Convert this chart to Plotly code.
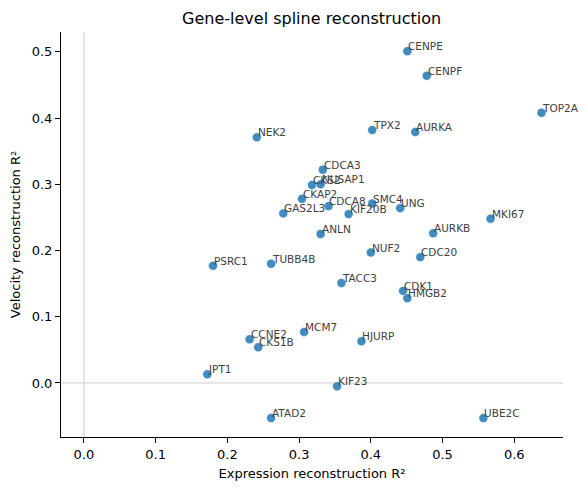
import plotly.graph_objects as go

genes = ["CENPE", "CENPF", "TOP2A", "NEK2", "TPX2", "AURKA", "CDCA3", "CKS2", "NUSAP1",
         "CKAP2", "CDCA8", "GAS2L3", "KIF20B", "SMC4", "UNG", "ANLN", "AURKB", "MKI67",
         "NUF2", "CDC20", "PSRC1", "TUBB4B", "TACC3", "CDK1", "HMGB2", "MCM7", "CCNE2",
         "CKS1B", "HJURP", "JPT1", "KIF23", "ATAD2", "UBE2C"]
expr_r2 = [0.451, 0.478, 0.638, 0.241, 0.402, 0.462, 0.333, 0.318, 0.330,
           0.304, 0.341, 0.278, 0.369, 0.402, 0.441, 0.330, 0.487, 0.567,
           0.400, 0.469, 0.180, 0.261, 0.359, 0.445, 0.451, 0.307, 0.231,
           0.243, 0.387, 0.172, 0.353, 0.261, 0.557]
vel_r2 = [0.501, 0.464, 0.408, 0.371, 0.382, 0.379, 0.322, 0.299, 0.300,
          0.278, 0.267, 0.256, 0.255, 0.271, 0.264, 0.225, 0.226, 0.248,
          0.197, 0.190, 0.177, 0.180, 0.151, 0.139, 0.128, 0.077, 0.066,
          0.054, 0.063, 0.013, -0.005, -0.053, -0.053]

x_ticks = [0.0, 0.1, 0.2, 0.3, 0.4, 0.5, 0.6]
y_ticks = [0.0, 0.1, 0.2, 0.3, 0.4, 0.5]
x_range = [-0.032, 0.668]
y_range = [-0.0816, 0.530]

font = "DejaVu Sans"

fig = go.Figure()
# reference lines at zero
fig.add_trace(go.Scatter(x=x_range, y=[0, 0], mode="lines",
                         line=dict(color="#cccccc", width=1), hoverinfo="skip", showlegend=False))
fig.add_trace(go.Scatter(x=[0, 0], y=y_range, mode="lines",
                         line=dict(color="#cccccc", width=1), hoverinfo="skip", showlegend=False))
fig.add_trace(go.Scatter(x=expr_r2, y=vel_r2, mode="markers", text=genes,
                         marker=dict(size=9, color="#1f77b4", opacity=0.85,
                                     line=dict(color="white", width=0.5)),
                         showlegend=False))

for g, xv, yv in zip(genes, expr_r2, vel_r2):
    fig.add_annotation(x=xv, y=yv, text=g, showarrow=False, xanchor="left", yanchor="bottom",
                       xshift=-1, yshift=-3, font=dict(family=font, size=10.5, color="#404040"))

fig.update_layout(
    width=588, height=490,
    margin=dict(l=61, r=25, t=32, b=53),
    plot_bgcolor="white", paper_bgcolor="white",
    font=dict(family=font, size=13, color="black"),
    title=dict(text="Gene-level spline reconstruction", x=0.53, xanchor="center",
               y=0.963, yanchor="middle", font=dict(size=16, family=font, color="black")),
)
fig.update_xaxes(range=x_range, tickvals=x_ticks, ticktext=[f"{t:.1f}" for t in x_ticks],
                 showgrid=False, zeroline=False, showline=True, linecolor="black", linewidth=1,
                 ticks="outside", ticklen=5, tickcolor="black", tickfont=dict(size=13),
                 title=dict(text="Expression reconstruction R²", font=dict(size=13), standoff=8))
fig.update_yaxes(range=y_range, tickvals=y_ticks, ticktext=[f"{t:.1f}" for t in y_ticks],
                 showgrid=False, zeroline=False, showline=True, linecolor="black", linewidth=1,
                 ticks="outside", ticklen=5, tickcolor="black", tickfont=dict(size=13),
                 title=dict(text="Velocity reconstruction R²", font=dict(size=13), standoff=8))

fig.write_html("out.html")
